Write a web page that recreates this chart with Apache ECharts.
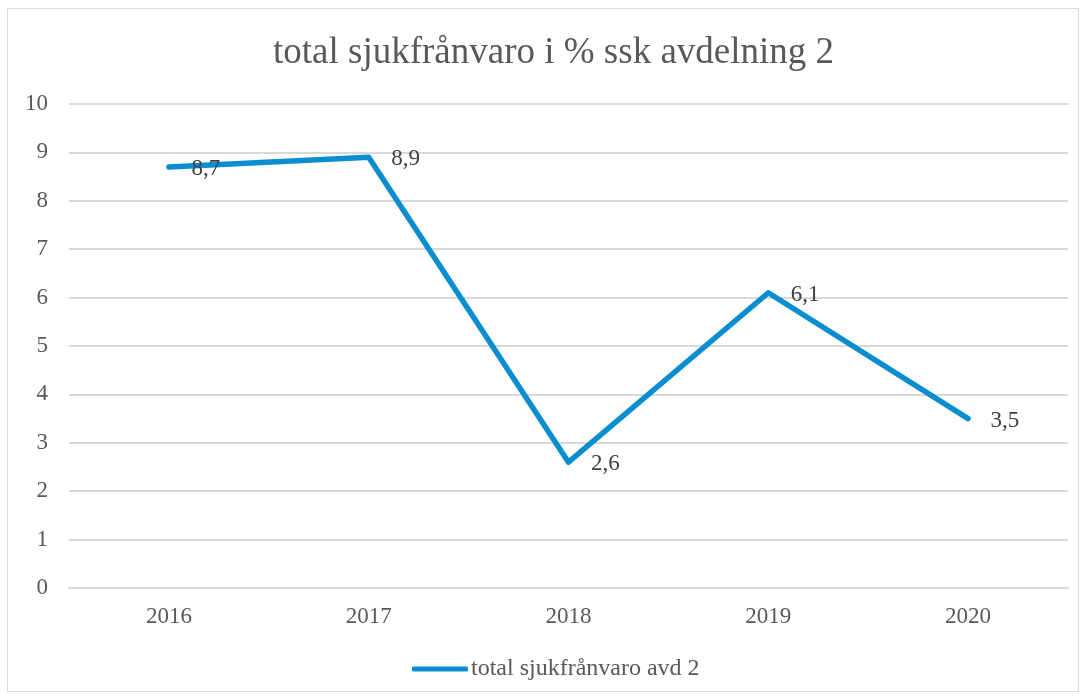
<!DOCTYPE html>
<html>
<head>
<meta charset="utf-8">
<script src="https://cdn.jsdelivr.net/npm/echarts@6/dist/echarts.min.js"></script>
<style>
  html, body { margin: 0; padding: 0; background: #fff; }
  #frame { position: absolute; left: 7px; top: 8px; width: 1072px; height: 684px; border: 1px solid #d9d9d9; box-sizing: border-box; }
  #chart { position: absolute; left: 0; top: 0; width: 1088px; height: 698px; }
</style>
</head>
<body>
<div id="frame"></div>
<div id="chart"></div>
<script>
const years = ['2016', '2017', '2018', '2019', '2020'];
const sickLeave = [8.7, 8.9, 2.6, 6.1, 3.5];
const seriesName = 'total sjukfrånvaro avd 2';
const titleText = 'total sjukfrånvaro i % ssk avdelning 2';

const serif = '"Liberation Serif", "Times New Roman", serif';
const blue = '#0a8ed0';

const chart = echarts.init(document.getElementById('chart'));
chart.setOption({
    animation: false,
    title: {
        text: titleText,
        left: 268,
        top: 30,
        textStyle: { fontFamily: serif, fontSize: 37, fontWeight: 'normal', color: '#595959' }
    },
    legend: {
        top: 657,
        left: 412,
        itemWidth: 56,
        itemHeight: 5,
        itemGap: 6,
        icon: 'roundRect',
        padding: 0,
        data: [seriesName],
        textStyle: { fontFamily: serif, fontSize: 24, color: '#595959', padding: [0, 0, 0, -2] }
    },
    grid: { left: 69, right: 20, top: 104, bottom: 110, containLabel: false },
    xAxis: {
        type: 'category',
        data: years,
        axisLine: { show: true, lineStyle: { color: '#d9d9d9', width: 2 } },
        axisTick: { show: false },
        axisLabel: { fontFamily: serif, fontSize: 23, color: '#595959', margin: 17 }
    },
    yAxis: {
        type: 'value',
        min: 0,
        max: 10,
        interval: 1,
        axisLine: { show: false },
        axisTick: { show: false },
        splitLine: { lineStyle: { color: '#d9d9d9', width: 2 } },
        axisLabel: { fontFamily: serif, fontSize: 23, color: '#595959', margin: 21 }
    },
    series: [{
        name: seriesName,
        type: 'line',
        data: sickLeave,
        symbol: 'circle',
        symbolSize: 1,
        showSymbol: true,
        lineStyle: { color: blue, width: 5.5, cap: 'round', join: 'round' },
        itemStyle: { color: blue },
        label: {
            show: true,
            position: 'right',
            distance: 22,
            offset: [0, 2],
            fontFamily: serif,
            fontSize: 23,
            color: '#404040',
            formatter: p => String(p.value).replace('.', ',')
        }
    }]
});
</script>
</body>
</html>
